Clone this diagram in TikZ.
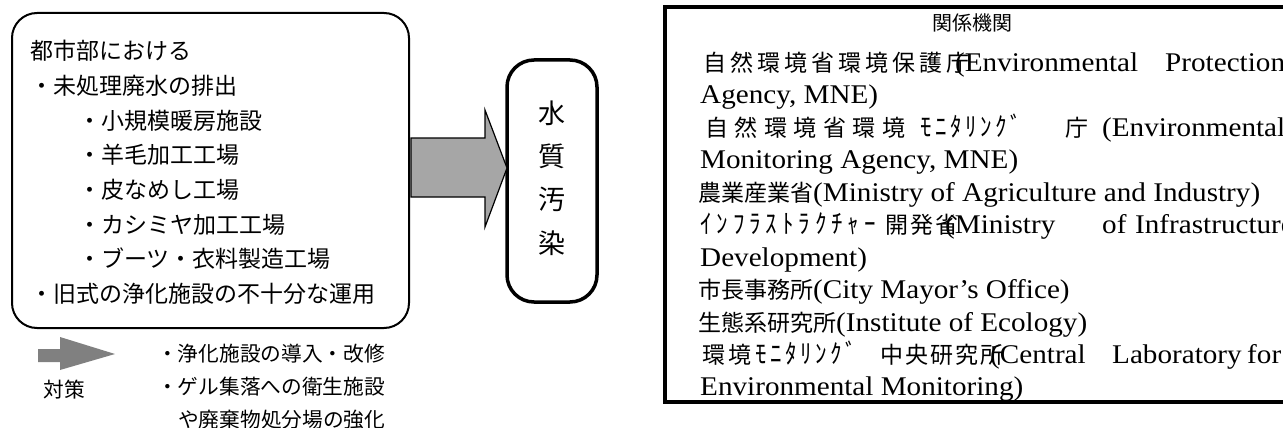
\documentclass[tikz,border=0pt]{standalone}
\usepackage{graphicx}
\usepackage{fontspec}
\setmainfont{Liberation Serif}[FakeStretch=1.08]
\newfontfamily\jp{Noto Sans CJK JP}
\newcommand\J{\jp\fontsize{23}{28}\selectfont}
\newcommand\wbox[2]{\makebox[#1pt][l]{#2}}
\newcommand\cj[2]{\makebox[#1pt][l]{\J #2}}
\newcommand\hk[2]{\makebox[#1pt][l]{\J\scalebox{1}[1.15]{#2}}}
\begin{document}
\begin{tikzpicture}[x=1pt,y=-1pt,
  srcbox/.style={draw, line width=2pt, rounded corners=25pt, inner sep=0pt},
  polbox/.style={draw, line width=3.5pt, rounded corners=27pt, inner sep=0pt},
  agbox/.style={draw, line width=3.5pt, inner sep=0pt},
  ltxt/.style={anchor=west, inner sep=0pt, font=\jp\fontsize{23}{28}\selectfont, text height=20.2pt, text depth=2.8pt},
  btxt/.style={anchor=west, inner sep=0pt, font=\jp\fontsize{20.7}{25}\selectfont, text height=18.2pt, text depth=2.5pt},
  rtxt/.style={anchor=west, inner sep=0pt, font=\fontsize{27}{32}\selectfont, text height=17.6pt, text depth=1pt},
  bigarrow/.style={draw, line width=1.2pt, fill=black!35, line join=miter},
  smallarrow/.style={fill=black!50}
]
\useasboundingbox (0,0) rectangle (1283,428);
\clip (0,0) rectangle (1283,428);
\fill[white] (0,0) rectangle (1283,428);

% left box
\node[srcbox, minimum width=397pt, minimum height=315pt] (src) at (210.5,170.5) {};
\node[ltxt] (t1) at (30,51) {都市部における};
\node[ltxt] (t2) at (30,85.7) {・未処理廃水の排出};
\node[ltxt] (t3) at (78,120.4) {・小規模暖房施設};
\node[ltxt] (t4) at (78,155.1) {・羊毛加工工場};
\node[ltxt] (t5) at (78,189.8) {・皮なめし工場};
\node[ltxt] (t6) at (78,224.5) {・カシミヤ加工工場};
\node[ltxt] (t7) at (78,259.2) {・ブーツ・衣料製造工場};
\node[ltxt] (t8) at (30,293.9) {・旧式の浄化施設の不十分な運用};

% pollution box
\node[polbox, minimum width=90pt, minimum height=242pt] (pol) at (552,181) {};
\node[inner sep=0pt, align=center, font=\jp\fontsize{27}{43.3}\selectfont] (poltxt) at (552,178) {水\\質\\汚\\染};

% big arrow
\draw[bigarrow] (411,138) -- (485,138) -- (485,110) -- (507,168) -- (485,227) -- (485,197) -- (411,197) -- cycle;

% measures
\fill[smallarrow] (38,349) -- (60,349) -- (60,337) -- (115,354) -- (60,370) -- (60,362) -- (38,362) -- cycle;
\node[btxt, anchor=center] (taisaku) at (64,390) {対策};
\node[btxt] (m1) at (157,354) {・浄化施設の導入・改修};
\node[btxt] (m2) at (157,387) {・ゲル集落への衛生施設};
\node[btxt] (m3) at (178,420) {や廃棄物処分場の強化};

% agencies box
\node[agbox, minimum width=645pt, minimum height=395pt] (ag) at (987.5,204.5) {};
\node[inner sep=0pt, font=\jp\fontsize{20}{24}\selectfont, text height=17.6pt, text depth=2.4pt] (title) at (972,23) {関係機関};
\node[rtxt] (r1) at (703,63) {\cj{27}{自}\cj{27}{然}\cj{27}{環}\cj{27}{境}\cj{27}{省}\cj{27}{環}\cj{27}{境}\cj{27}{保}\cj{27}{護}\cj{9}{庁}\wbox{210}{(Environmental}Protection};
\node[rtxt] (r2) at (700,95.5) {Agency, MNE)};
\node[rtxt] (r3) at (705,128) {\cj{29.5}{自}\cj{29.5}{然}\cj{29.5}{環}\cj{29.5}{境}\cj{29.5}{省}\cj{29.5}{環}\cj{38}{境}\hk{15}{ﾓ}\hk{15}{ﾆ}\hk{15}{ﾀ}\hk{15}{ﾘ}\hk{15}{ﾝ}\hk{15}{ｸ}\hk{55}{ﾞ}\cj{37}{庁}(Environmental};
\node[rtxt] (r4) at (700,160.5) {Monitoring Agency, MNE)};
\node[rtxt] (r5) at (698,193) {{\J 農業産業省}(Ministry of Agriculture and Industry)};
\node[rtxt] (r6) at (700,225.5) {\hk{16.4}{ｲ}\hk{16.4}{ﾝ}\hk{16.4}{ﾌ}\hk{16.4}{ﾗ}\hk{16.4}{ｽ}\hk{16.4}{ﾄ}\hk{16.4}{ﾗ}\hk{16.4}{ｸ}\hk{16.4}{ﾁ}\hk{16.4}{ｬ}\hk{21}{ｰ}\cj{25}{開}\cj{25}{発}\cj{10}{省}\wbox{157}{(Ministry}\wbox{33}{of}Infrastructure};
\node[rtxt] (r7) at (700,258) {Development)};
\node[rtxt] (r8) at (698,290.5) {{\J 市長事務所}(City Mayor’s Office)};
\node[rtxt] (r9) at (698,323) {{\J 生態系研究所}(Institute of Ecology)};
\node[rtxt] (r10) at (702,355.5) {\cj{26}{環}\cj{27}{境}\hk{15}{ﾓ}\hk{15}{ﾆ}\hk{15}{ﾀ}\hk{15}{ﾘ}\hk{15}{ﾝ}\hk{15}{ｸ}\hk{35}{ﾞ}\cj{25}{中}\cj{25}{央}\cj{25}{研}\cj{25}{究}\cj{10}{所}\wbox{122}{(Central}\wbox{135}{Laboratory}for};
\node[rtxt] (r11) at (700,387.5) {Environmental Monitoring)};
\end{tikzpicture}
\end{document}
